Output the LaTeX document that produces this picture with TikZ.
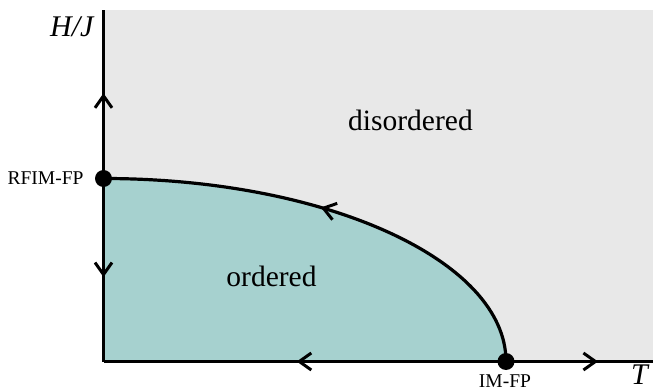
\documentclass[tikz,border=0pt]{standalone}
\usepackage{fontspec}
\setmainfont{Liberation Serif}
\usetikzlibrary{arrows.meta,decorations.markings}
\definecolor{bggray}{RGB}{232,232,232}
\definecolor{ordteal}{RGB}{166,209,207}
\tikzset{
  axisline/.style={line width=3.2pt, line cap=butt},
  flowtip/.style={decoration={markings, mark=at position #1 with {\arrow{Straight Barb[length=12pt,width=17pt,line width=3pt]}}}, postaction={decorate}},
  fixpt/.style={circle, fill=black, inner sep=0pt, minimum size=17pt},
  phaselabel/.style={font=\fontsize{29.5}{32}\selectfont, anchor=base},
  fplabel/.style={font=\fontsize{19.5}{22}\selectfont, anchor=base},
  axlabel/.style={font=\fontsize{30}{32}\selectfont\itshape, anchor=base}
}
\begin{document}
\begin{tikzpicture}[x=1pt,y=1pt]
\useasboundingbox (0,0) rectangle (653,391);
\coordinate (O) at (103.5,29.5);
\coordinate (top) at (103.5,381);
\coordinate (xend) at (653,29.5);
\coordinate (rfim) at (103.5,212.5);
\coordinate (im) at (506,29.5);
% regions
\fill[bggray] (O) rectangle (653,381);
\fill[ordteal] (O) -- (im) arc[start angle=0,end angle=90,x radius=402.5pt,y radius=183pt] -- cycle;
% phase boundary
\draw[axisline, flowtip=0.538] (im) arc[start angle=0,end angle=90,x radius=402.5pt,y radius=183pt];
% axes
\draw[axisline, flowtip=0.506] (rfim) -- (top);
\draw[axisline, flowtip=0.539] (rfim) -- (O);
\draw[axisline, flowtip=0.52] (im) -- (O);
\draw[axisline, flowtip=0.626] (im) -- (xend);
% fixed points
\node[fixpt] (rfimdot) at (rfim) {};
\node[fixpt] (imdot) at (im) {};
% labels
\node[fplabel, anchor=base east] (rfimlab) at (87,206) {RFIM-FP};
\node[fplabel] (imlab) at (505,4) {IM-FP};
\node[phaselabel] (dis) at (410.5,260) {disordered};
\node[phaselabel] (ord) at (271.5,104) {ordered};
\node[axlabel, anchor=base east] (hj) at (97,354) {H/J};
\node[axlabel, anchor=base east, inner sep=1pt] (tlab) at (649,7) {T};
\end{tikzpicture}
\end{document}
